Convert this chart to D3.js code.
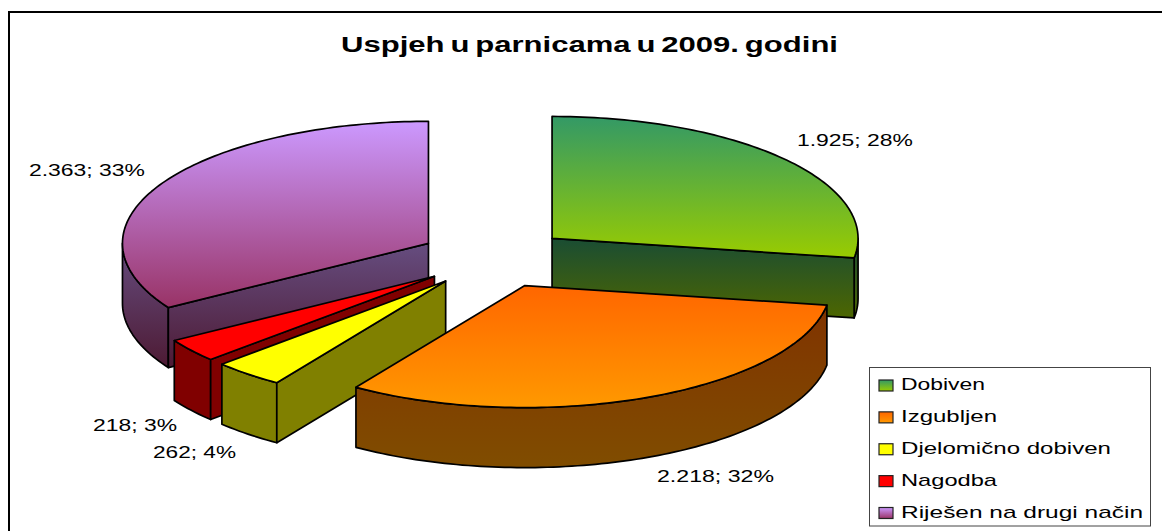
<!DOCTYPE html>
<html><head><meta charset="utf-8">
<script src="https://cdn.jsdelivr.net/npm/d3@7"></script>
<style>html,body{margin:0;padding:0;background:#fff;overflow:hidden}svg{display:block}text{font-family:"Liberation Sans",Arial,sans-serif;fill:#000}</style>
</head><body><svg id="c" width="1162" height="531"></svg>
<script>
const categories = ["Dobiven","Izgubljen","Djelomično dobiven","Nagodba","Riješen na drugi način"];
const values = [1925,2218,262,218,2363];
const valueLabels = ["1.925; 28%","2.218; 32%","262; 4%","218; 3%","2.363; 33%"];
const gradTop = ["#339966","#ff6600","#ffff00","#ff0000","#cc99ff"];
const gradBottom = ["#99cc00","#ff9900","#ffff00","#ff0000","#993366"];
const drawOrder = [4,0,3,2,1];

const W=1162,H=531;
const svg=d3.select("#c");
const defs=svg.append("defs");
const half=c=>{const r=d3.rgb(c);return d3.rgb(r.r/2,r.g/2,r.b/2).formatHex();};
function grad(id,a,b){const g=defs.append("linearGradient").attr("id",id).attr("x1",0).attr("y1",0).attr("x2",0).attr("y2",1);
  g.append("stop").attr("offset",0).attr("stop-color",a);g.append("stop").attr("offset",1).attr("stop-color",b);}
categories.forEach((_,i)=>{grad("t"+i,gradTop[i],gradBottom[i]);grad("s"+i,half(gradTop[i]),half(gradBottom[i]));});

// frame: only its top and left edges fall inside the picture
svg.append("rect").attr("x",9).attr("y",12).attr("width",1200).attr("height",560).attr("fill","#fff").attr("stroke","#000").attr("stroke-width",2);

function txt(s,x,y,len,size,bold){
  return svg.append("text").attr("x",x).attr("y",y).attr("textLength",len).attr("lengthAdjust","spacingAndGlyphs")
    .attr("font-size",size).attr("font-weight",bold?"bold":"normal").text(s);
}
txt("Uspjeh u parnicama u 2009. godini",341,52,497,22.5,true).style("word-spacing","-2px");

// pie geometry
const TAU=Math.PI*2;
const cx=494.5,cy=258,rx=306,ry=122,depth=60,explode=0.247;
const arcs=d3.pie().sort(null).value(d=>d)(values);
const px=d3.scaleLinear().domain([-1,1]).range([-rx,rx]);
const py=d3.scaleLinear().domain([-1,1]).range([ry,-ry]);
const line=d3.line();
function pt(a,c,r=1,dy=0){return [c[0]+px(Math.sin(a)*r),c[1]+py(Math.cos(a)*r)+dy];}
function sweep(a0,a1,c,dy){const n=Math.max(2,Math.ceil((a1-a0)/0.02));return d3.range(n+1).map(i=>pt(a0+(a1-a0)*i/n,c,1,dy));}

drawOrder.forEach(i=>{
  const d=arcs[i],a0=d.startAngle,a1=d.endAngle,mid=(a0+a1)/2;
  const c=[cx+px(Math.sin(mid)*explode),cy+py(Math.cos(mid)*explode)];
  const g=svg.append("g").attr("stroke","#000").attr("stroke-width",1.7).attr("stroke-linejoin","round");
  const wall=`url(#s${i})`;
  const fa=Math.max(a0,TAU/4),fb=Math.min(a1,TAU*3/4);
  if(fb>fa){
    const top=sweep(fa,fb,c,0),bot=sweep(fa,fb,c,depth).reverse();
    g.append("path").attr("d",line(top.concat(bot))+"Z").attr("fill",wall);
  }
  if(Math.sin(a1)>0) g.append("path").attr("d",line([c,pt(a1,c),pt(a1,c,1,depth),[c[0],c[1]+depth]])+"Z").attr("fill",wall);
  if(Math.sin(a0)<0) g.append("path").attr("d",line([c,pt(a0,c),pt(a0,c,1,depth),[c[0],c[1]+depth]])+"Z").attr("fill",wall);
  g.append("path").attr("d",line([c].concat(sweep(a0,a1,c,0)))+"Z").attr("fill",`url(#t${i})`);
});

// data labels
const labelPos=[[797,146,116],[657,482,117],[153,458,83],[93,431,84],[29,176,116]];
valueLabels.forEach((s,i)=>txt(s,labelPos[i][0],labelPos[i][1],labelPos[i][2],16.5,false));

// legend
const legend=svg.append("g");
legend.append("rect").attr("x",869.5).attr("y",367.5).attr("width",281).attr("height",158.5).attr("fill","#fff").attr("stroke","#444").attr("stroke-width",1);
const ly=d3.scalePoint().domain(categories).range([385,512.5]);
const legendLen=[84,96,210,96,242];
categories.forEach((s,i)=>{
  legend.append("rect").attr("x",879).attr("y",ly(s)-5).attr("width",14).attr("height",11).attr("fill",`url(#t${i})`).attr("stroke","#222").attr("stroke-width",1.2);
  txt(s,901,ly(s)+5,legendLen[i],17,false);
});
</script></body></html>
